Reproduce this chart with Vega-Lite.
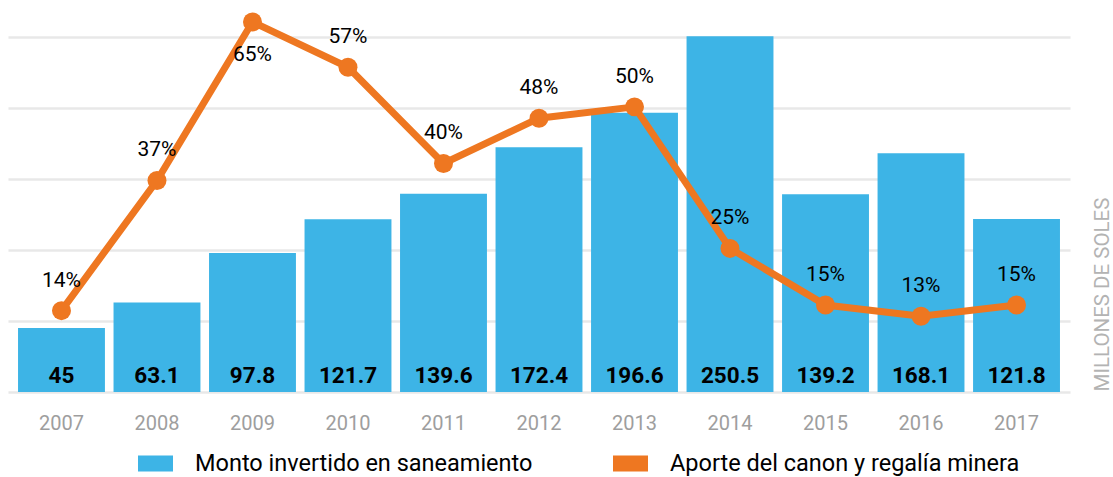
{
  "$schema": "https://vega.github.io/schema/vega-lite/v6.json",
  "width": 1062,
  "height": 380,
  "autosize": {"type": "none"},
  "padding": {"left": 8, "top": 12, "right": 43, "bottom": 85},
  "background": "white",
  "config": {"view": {"stroke": null}, "font": "Roboto"},
  "data": {
    "values": [
      {"year": "2007", "monto": 45, "pct": 0.14},
      {"year": "2008", "monto": 63.1, "pct": 0.37},
      {"year": "2009", "monto": 97.8, "pct": 0.65},
      {"year": "2010", "monto": 121.7, "pct": 0.57},
      {"year": "2011", "monto": 139.6, "pct": 0.40},
      {"year": "2012", "monto": 172.4, "pct": 0.48},
      {"year": "2013", "monto": 196.6, "pct": 0.50},
      {"year": "2014", "monto": 250.5, "pct": 0.25},
      {"year": "2015", "monto": 139.2, "pct": 0.15},
      {"year": "2016", "monto": 168.1, "pct": 0.13},
      {"year": "2017", "monto": 121.8, "pct": 0.15}
    ]
  },
  "layer": [
    {
      "layer": [
        {
          "mark": {"type": "bar"},
          "encoding": {
            "x": {
              "field": "year", "type": "ordinal", "title": null,
              "scale": {"paddingInner": 0.09, "paddingOuter": 0.105},
              "axis": {"labelAngle": 0, "domain": false, "ticks": false, "tickSize": 0, "labelPadding": 31, "labelBaseline": "middle", "labelFontSize": 20, "labelColor": "#9e9e9e", "labelFont": "Roboto", "grid": false}
            },
            "y": {
              "field": "monto", "type": "quantitative",
              "scale": {"domain": [0, 267.6], "nice": false, "zero": true},
              "axis": {"orient": "right", "values": [0, 50, 100, 150, 200, 250], "labels": false, "ticks": false, "tickSize": 0, "domain": false, "grid": true, "gridColor": "#e8e8e8", "gridWidth": 2.5, "title": "MILLONES DE SOLES", "titleFont": "Roboto", "titleFontSize": 20.5, "titleFontWeight": "normal", "titleColor": "#b3b3b3", "titleAngle": 270, "titleAlign": "left", "titleBaseline": "alphabetic", "titleX": 38, "titleY": 379}
            },
            "color": {
              "datum": "Monto invertido en saneamiento", "type": "nominal",
              "scale": {"domain": ["Monto invertido en saneamiento", "Aporte del canon y regalía minera"], "range": ["#3DB4E6", "#EE7721"]},
              "legend": {"orient": "none", "legendX": 130, "legendY": 434, "direction": "horizontal", "title": null, "symbolType": "M-1,-0.46H1V0.46H-1Z", "symbolSize": 1225, "symbolStrokeWidth": 0, "symbolOpacity": 1, "labelFontSize": 23.5, "labelFont": "Roboto", "labelColor": "black", "labelOffset": 22, "columnPadding": 80, "labelLimit": 600}
            }
          }
        },
        {
          "mark": {"type": "text", "dy": -9, "baseline": "alphabetic", "fontSize": 22.5, "fontWeight": "bold", "color": "black"},
          "encoding": {
            "x": {"field": "year", "type": "ordinal"},
            "y": {"datum": 0, "type": "quantitative"},
            "text": {"field": "monto", "type": "quantitative"}
          }
        }
      ]
    },
    {
      "layer": [
        {
          "mark": {"type": "line", "color": "#EE7721", "strokeWidth": 7},
          "encoding": {
            "x": {"field": "year", "type": "ordinal"},
            "y": {"field": "pct", "type": "quantitative", "scale": {"domain": [-0.0037, 0.6676], "nice": false, "zero": false}, "axis": null}
          }
        },
        {
          "mark": {"type": "point", "filled": true, "size": 360, "color": "#EE7721", "opacity": 1},
          "encoding": {
            "x": {"field": "year", "type": "ordinal"},
            "y": {"field": "pct", "type": "quantitative"}
          }
        },
        {
          "transform": [{"filter": "datum.pct != 0.65"}],
          "mark": {"type": "text", "dy": -30, "baseline": "middle", "fontSize": 21, "fontWeight": "normal", "color": "black"},
          "encoding": {
            "x": {"field": "year", "type": "ordinal"},
            "y": {"field": "pct", "type": "quantitative"},
            "text": {"field": "pct", "type": "quantitative", "format": ".0%"}
          }
        },
        {
          "transform": [{"filter": "datum.pct == 0.65"}],
          "mark": {"type": "text", "dy": 33, "baseline": "middle", "fontSize": 21, "fontWeight": "normal", "color": "black"},
          "encoding": {
            "x": {"field": "year", "type": "ordinal"},
            "y": {"field": "pct", "type": "quantitative"},
            "text": {"field": "pct", "type": "quantitative", "format": ".0%"}
          }
        }
      ]
    }
  ],
  "resolve": {"scale": {"y": "independent"}}
}
